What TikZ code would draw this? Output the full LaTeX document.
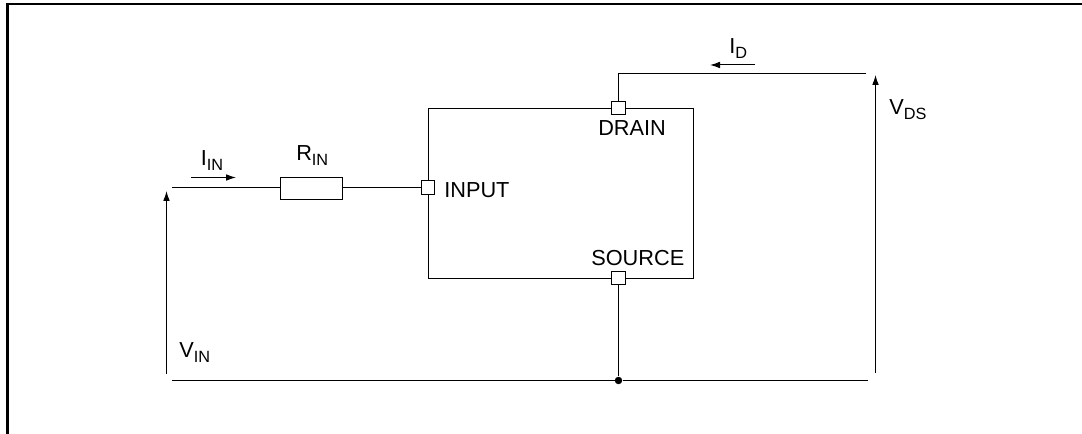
\documentclass[tikz,border=0pt]{standalone}
\usepackage{fontspec}
\setmainfont{Liberation Sans}
\usepackage{tikz}
\usetikzlibrary{arrows.meta}
\newcommand{\lowsub}[1]{\raisebox{-3.75pt}{\fontsize{12.2}{13}\selectfont #1}}

\begin{document}
\begin{tikzpicture}[x=0.75pt,y=-0.75pt]
        % Define styles for the parts of the circuit
        \tikzset{
            wire/.style={draw, line width=0.75pt},
            flow/.style={draw, line width=0.75pt, -{Latex[length=7.5pt,width=5pt]}},
            v_port/.style={draw, rectangle, line width=0.75pt, fill=white, inner sep=0pt, minimum size=10.2pt},
            v_dot/.style={circle, fill=black, inner sep=0pt, minimum size=5.6pt},
            v_box/.style={draw, rectangle, line width=0.75pt, inner sep=0pt},
            v_label/.style={anchor=base west, inner sep=0pt, font=\fontsize{16.3}{18}\selectfont}
        }

        \useasboundingbox (0,0) rectangle (1082,434);

        % Outer frame, open at the right and the bottom
        \draw[line width=1.6pt] (7.5,434) -- (7.5,4) -- (1082,4);

        % Main block and its three ports
        \node[v_box, minimum width=198.75pt, minimum height=127.5pt] (block) at (560.5,194) {};
        \node[v_port] (drain) at (618.5,108) {};
        \node[v_port] (input) at (428,187.5) {};
        \node[v_port] (source) at (618.5,278) {};
        \node[v_label] (drain_text) at (598,136) {DRAIN};
        \node[v_label] (input_text) at (444,197.5) {INPUT};
        \node[v_label] (source_text) at (591,265.5) {SOURCE};

        % Input side
        \node[v_box, fill=white, minimum width=46.5pt, minimum height=16.5pt] (rin) at (311.3,188.3) {};
        \coordinate (in_end) at (172,187.5);
        \draw[wire] (in_end) -- (rin.west |- in_end);
        \draw[wire] (rin.east |- input) -- (input.west);
        \coordinate (iin_a) at (191,177.5);
        \coordinate (iin_b) at (236,177.5);
        \draw[flow] (iin_a) -- (iin_b);
        \node[v_label] (iin_text) at (200.5,166) {I\lowsub{IN}};
        \node[v_label] (rin_text) at (296,161) {R\lowsub{IN}};

        % Drain side
        \coordinate (drain_end) at (866,74);
        \draw[wire] (drain.north) |- (drain_end);
        \coordinate (id_a) at (755,65);
        \coordinate (id_b) at (710,65);
        \draw[flow] (id_a) -- (id_b);
        \node[v_label] (id_text) at (729,53.5) {I\lowsub{D}};

        % Common return
        \coordinate (ret_a) at (172,380.5);
        \coordinate (ret_b) at (868,380.5);
        \node[v_dot] (junction) at (618.5,380.5) {};
        \draw[wire] (ret_a) -- (junction) -- (ret_b);
        \draw[wire] (source.south) -- (junction);

        % Voltage arrows
        \coordinate (vin_a) at (166.5,374);
        \coordinate (vin_b) at (166.5,191);
        \draw[flow] (vin_a) -- (vin_b);
        \node[v_label] (vin_text) at (179,358) {V\lowsub{IN}};
        \coordinate (vds_a) at (875.5,373);
        \coordinate (vds_b) at (875.5,75);
        \draw[flow] (vds_a) -- (vds_b);
        \node[v_label] (vds_text) at (889,115) {V\lowsub{DS}};
\end{tikzpicture}
\end{document}
